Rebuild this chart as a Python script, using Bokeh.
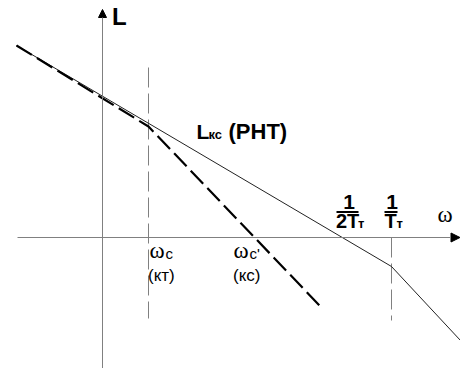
from bokeh.plotting import figure
from bokeh.models import Range1d, Arrow, NormalHead, Label
from bokeh.embed import file_html
from bokeh.resources import INLINE

# Asymptotic log-magnitude characteristics (x: lg(omega) units, y: L units)
solid_x = [-8.6, 28.9, 35.8]      # L_kc (PHT): -20 dB/dec, then steeper after 1/T_T
solid_y = [19.2, -2.9, -10.3]
dashed_x = [-8.6, 4.6, 21.8]      # corrected characteristic, breaks at omega_c
dashed_y = [19.2, 11.1, -6.9]

# vertical guides at omega_c and 1/T_T
guide_x = [4.6, 28.9]
guide_top = [17.0, 0.0]
guide_bottom = [-8.1, -8.3]

# axes extents
axis_x = [-8.5, 35.75]
axis_y = [-13.2, 22.8]

p = figure(width=460, height=368, output_backend="svg", toolbar_location=None,
           x_range=Range1d(-10.2, 35.8), y_range=Range1d(-13.1, 23.7),
           min_border=0, outline_line_color=None)
p.axis.visible = False
p.grid.visible = False
p.background_fill_color = "white"
p.border_fill_color = "white"

AX = "#808080"

# coordinate axes with arrowheads
p.add_layout(Arrow(x_start=axis_x[0], y_start=0, x_end=axis_x[1], y_end=0,
                   line_color=AX, line_width=1,
                   end=NormalHead(size=9, fill_color="black", line_color="black")))
p.add_layout(Arrow(x_start=0, y_start=axis_y[0], x_end=0, y_end=axis_y[1],
                   line_color=AX, line_width=1,
                   end=NormalHead(size=8, fill_color="black", line_color="black")))

# vertical guides
p.segment(x0=guide_x, y0=guide_top, x1=guide_x, y1=guide_bottom,
          line_color=AX, line_width=1, line_dash="20 6")

# characteristics
p.line(solid_x, solid_y, line_color="#222222", line_width=1)
p.line(dashed_x, dashed_y, line_color="black", line_width=2.2, line_dash="18 6")

SANS = "Liberation Sans"
SERIF = "Liberation Serif"
LIFT = 0.033  # baseline correction per px of font size


def lab(x, y, t, size, font=SANS, style="normal", align="left"):
    p.add_layout(Label(x=x, y=y + LIFT * size, text=t, text_font=font,
                       text_font_size=f"{size}px", text_font_style=style,
                       text_color="black", text_align=align,
                       text_baseline="alphabetic"))


# axis names
lab(0.95, 21.3, "L", 24, style="bold")
lab(33.5, 1.5, "ω", 23, font=SERIF)

# curve name
lab(9.4, 9.9, "L", 21, style="bold")
lab(10.6, 9.9, "кс", 13, style="bold")
lab(12.6, 9.9, "(PHT)", 22, style="bold")

# 1 / 2T_T
lab(24.65, 2.9, "1", 21, style="bold", align="center")
lab(23.35, 1.0, "2T", 20, style="bold")
lab(25.55, 1.0, "т", 13, style="bold")
# 1 / T_T
lab(28.95, 2.9, "1", 21, style="bold", align="center")
lab(28.2, 1.0, "T", 20, style="bold")
lab(29.4, 1.0, "т", 13, style="bold")
# fraction bars
p.segment(x0=[23.4, 28.2], y0=[2.55, 2.55], x1=[25.6, 29.5], y1=[2.55, 2.55],
          line_color="black", line_width=2)

# crossover frequencies
lab(4.7, -2.1, "ω", 23, font=SERIF)
lab(6.3, -2.1, "c", 15)
lab(4.55, -4.4, "(кт)", 17)
lab(13.1, -2.1, "ω", 23, font=SERIF)
lab(14.7, -2.1, "c'", 15)
lab(13.05, -4.4, "(кс)", 17)

open("out.html", "w").write(file_html(p, INLINE))
